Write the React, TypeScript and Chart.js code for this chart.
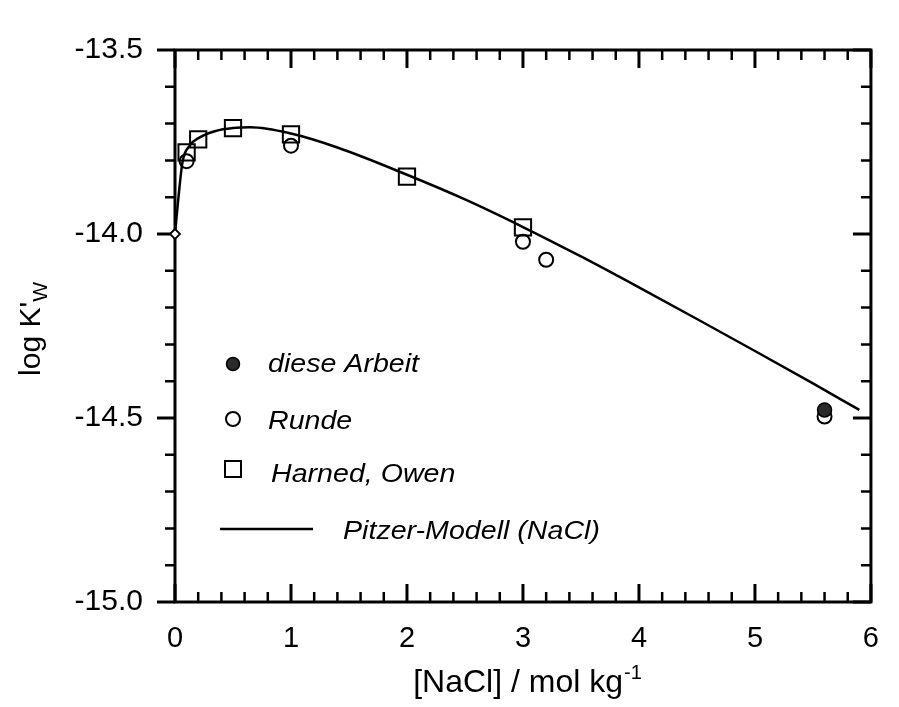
import React, { useEffect, useRef } from 'react';
import { Chart, registerables } from 'chart.js';

Chart.register(...registerables);

// ---- data ----
const DIESE_X = [5.6];
const DIESE_Y = [-14.478];

const RUNDE_X = [0.1, 1.0, 3.0, 3.2, 5.6];
const RUNDE_Y = [-13.802, -13.76, -14.021, -14.07, -14.496];

const HARNED_X = [0.1, 0.2, 0.5, 1.0, 2.0, 3.0];
const HARNED_Y = [-13.778, -13.743, -13.712, -13.729, -13.844, -13.982];

const PITZER_X = [0, 0.03, 0.065, 0.126, 0.21, 0.35, 0.5, 0.65, 1.0, 1.4, 2.0, 2.5, 3.0, 3.5, 4.0, 4.5, 5.0, 5.5, 5.9];
const PITZER_Y = [-14.0, -13.9, -13.804, -13.76, -13.738, -13.72, -13.712, -13.71, -13.727, -13.765, -13.839, -13.906, -13.981, -14.061, -14.145, -14.231, -14.318, -14.406, -14.478];

const ORIGIN_X = [0];
const ORIGIN_Y = [-14.0];

const X_TICKS = [0, 1, 2, 3, 4, 5, 6];
const Y_TICKS = [-15.0, -14.5, -14.0, -13.5];
const X_MINOR_STEP = 0.2;
const Y_MINOR_STEP = 0.1;

const LABEL_DIESE = 'diese Arbeit';
const LABEL_RUNDE = 'Runde';
const LABEL_HARNED = 'Harned, Owen';
const LABEL_PITZER = 'Pitzer-Modell (NaCl)';

const X_TITLE = '[NaCl] / mol kg';
const X_TITLE_SUP = '-1';
const Y_TITLE = "log K'";
const Y_TITLE_SUB = 'W';

const FONT = '"Liberation Sans", Arial, Helvetica, sans-serif';

const toPts = (xs: number[], ys: number[]) => xs.map((x, i) => ({ x, y: ys[i] }));

const framePlugin = {
  id: 'frameTicks',
  beforeDatasetsDraw(chart: any) {
    const { ctx, chartArea, scales } = chart;
    const { left, right, top, bottom } = chartArea;
    const xs = scales.x;
    const ys = scales.y;
    ctx.save();
    ctx.strokeStyle = '#000';
    ctx.lineCap = 'butt';
    const MAJ = 18;
    const MIN = 10;
    // x ticks (bottom + top, inward)
    const xMin = xs.min, xMax = xs.max;
    const nX = Math.round((xMax - xMin) / X_MINOR_STEP);
    for (let i = 0; i <= nX; i++) {
      const v = xMin + i * X_MINOR_STEP;
      const isMaj = X_TICKS.some((t) => Math.abs(t - v) < 1e-6);
      const px = xs.getPixelForValue(v);
      const len = isMaj ? MAJ : MIN;
      ctx.lineWidth = isMaj ? 3 : 2.5;
      ctx.beginPath();
      ctx.moveTo(px, bottom);
      ctx.lineTo(px, bottom - len);
      ctx.moveTo(px, top);
      ctx.lineTo(px, top + len);
      ctx.stroke();
    }
    // y ticks (left outward, right inward)
    const yMin = ys.min, yMax = ys.max;
    const nY = Math.round((yMax - yMin) / Y_MINOR_STEP);
    for (let i = 0; i <= nY; i++) {
      const v = yMin + i * Y_MINOR_STEP;
      const isMaj = Y_TICKS.some((t) => Math.abs(t - v) < 1e-6);
      const py = ys.getPixelForValue(v);
      const len = isMaj ? MAJ : MIN;
      ctx.lineWidth = isMaj ? 3 : 2.5;
      ctx.beginPath();
      ctx.moveTo(left, py);
      ctx.lineTo(left - len, py);
      ctx.moveTo(right, py);
      ctx.lineTo(right - len, py);
      ctx.stroke();
    }
    // frame
    ctx.lineWidth = 3;
    ctx.strokeRect(left, top, right - left, bottom - top);
    ctx.restore();
  },
  afterDraw(chart: any) {
    const { ctx, chartArea } = chart;
    const { left, right, top, bottom } = chartArea;
    ctx.save();
    ctx.fillStyle = '#000';
    ctx.textBaseline = 'alphabetic';
    ctx.textAlign = 'left';

    // x title with superscript
    ctx.font = `32px ${FONT}`;
    const w1 = ctx.measureText(X_TITLE).width;
    ctx.font = `20px ${FONT}`;
    const w2 = ctx.measureText(X_TITLE_SUP).width;
    const cx = (left + right) / 2 + 4;
    const sx = cx - (w1 + w2) / 2;
    const by = bottom + 90;
    ctx.font = `32px ${FONT}`;
    ctx.fillText(X_TITLE, sx, by);
    ctx.font = `20px ${FONT}`;
    ctx.fillText(X_TITLE_SUP, sx + w1 + 1, by - 13);

    // y title with subscript (rotated)
    ctx.save();
    ctx.translate(40, (top + bottom) / 2 + 3);
    ctx.rotate(-Math.PI / 2);
    ctx.font = `30px ${FONT}`;
    const yw1 = ctx.measureText(Y_TITLE).width;
    ctx.font = `21px ${FONT}`;
    const yw2 = ctx.measureText(Y_TITLE_SUB).width;
    const ys0 = -(yw1 + yw2) / 2;
    ctx.font = `30px ${FONT}`;
    ctx.fillText(Y_TITLE, ys0, 0);
    ctx.font = `21px ${FONT}`;
    ctx.fillText(Y_TITLE_SUB, ys0 + yw1, 7);
    ctx.restore();

    // legend
    const symX = left + 58;
    const txtX = left + 93;
    const rows = [
      { label: LABEL_DIESE, sy: top + 314, ty: top + 322, kind: 'filled' },
      { label: LABEL_RUNDE, sy: top + 369, ty: top + 378.5, kind: 'circle' },
      { label: LABEL_HARNED, sy: top + 419, ty: top + 432, kind: 'rect' },
      { label: LABEL_PITZER, sy: top + 479, ty: top + 489, kind: 'line' },
    ];
    rows.forEach((r) => {
      ctx.strokeStyle = '#000';
      ctx.lineWidth = 2;
      if (r.kind === 'filled') {
        ctx.beginPath();
        ctx.arc(symX, r.sy, 6.5, 0, Math.PI * 2);
        ctx.fillStyle = '#2a2a2a';
        ctx.fill();
        ctx.lineWidth = 1.5;
        ctx.stroke();
      } else if (r.kind === 'circle') {
        ctx.beginPath();
        ctx.arc(symX, r.sy, 7, 0, Math.PI * 2);
        ctx.stroke();
      } else if (r.kind === 'rect') {
        ctx.strokeRect(symX - 8, r.sy - 8, 16, 16);
      } else {
        ctx.lineWidth = 2.5;
        ctx.beginPath();
        ctx.moveTo(left + 45, r.sy);
        ctx.lineTo(left + 138, r.sy);
        ctx.stroke();
      }
      ctx.fillStyle = '#000';
      ctx.font = `italic 26px ${FONT}`;
      const tx = r.kind === 'line' ? left + 168 : r.kind === 'rect' ? txtX + 3 : txtX;
      ctx.save();
      ctx.translate(tx, r.ty);
      ctx.scale(1.1, 1);
      ctx.fillText(r.label, 0, 0);
      ctx.restore();
    });
    ctx.restore();
  },
};

export default function App() {
  const ref = useRef<HTMLCanvasElement>(null);
  useEffect(() => {
    const chart = new Chart(ref.current as HTMLCanvasElement, {
      type: 'scatter',
      data: {
        datasets: [
          {
            label: 'origin',
            data: toPts(ORIGIN_X, ORIGIN_Y),
            pointStyle: 'rectRot',
            pointRadius: 5,
            borderColor: '#000',
            backgroundColor: '#fff',
            borderWidth: 1.8,
            clip: false,
          } as any,
          {
            label: LABEL_DIESE,
            data: toPts(DIESE_X, DIESE_Y),
            pointStyle: 'circle',
            pointRadius: 7,
            borderColor: '#000',
            backgroundColor: '#2a2a2a',
            borderWidth: 1.5,
            clip: false,
          } as any,
          {
            label: LABEL_RUNDE,
            data: toPts(RUNDE_X, RUNDE_Y),
            pointStyle: 'circle',
            pointRadius: 7,
            borderColor: '#000',
            backgroundColor: 'rgba(0,0,0,0)',
            borderWidth: 2,
            clip: false,
          } as any,
          {
            label: LABEL_HARNED,
            data: toPts(HARNED_X, HARNED_Y),
            pointStyle: 'rect',
            pointRadius: 11.5,
            borderColor: '#000',
            backgroundColor: 'rgba(0,0,0,0)',
            borderWidth: 2,
            clip: false,
          } as any,
          {
            label: LABEL_PITZER,
            data: toPts(PITZER_X, PITZER_Y),
            showLine: true,
            pointRadius: 0,
            borderColor: '#000',
            backgroundColor: '#000',
            borderWidth: 2.5,
            cubicInterpolationMode: 'monotone',
            fill: false,
            clip: false,
          } as any,
        ],
      },
      options: {
        animation: false,
        responsive: true,
        maintainAspectRatio: false,
        events: [],
        layout: { padding: { top: 33, right: 11, left: 0, bottom: 0 } },
        plugins: { legend: { display: false }, tooltip: { enabled: false } },
        scales: {
          x: {
            type: 'linear',
            min: 0,
            max: 6,
            afterBuildTicks: (s: any) => {
              s.ticks = X_TICKS.map((v) => ({ value: v }));
            },
            afterFit: (s: any) => {
              s.height = 105;
            },
            grid: { display: false, drawTicks: false },
            border: { display: false },
            ticks: {
              color: '#000',
              font: { family: FONT, size: 29 },
              padding: 20,
              maxRotation: 0,
              autoSkip: false,
              callback: (v: any) => String(v),
            },
          },
          y: {
            type: 'linear',
            min: -15,
            max: -13.5,
            afterBuildTicks: (s: any) => {
              s.ticks = Y_TICKS.map((v) => ({ value: v }));
            },
            afterFit: (s: any) => {
              s.width = 175;
            },
            grid: { display: false, drawTicks: false },
            border: { display: false },
            ticks: {
              color: '#000',
              font: { family: FONT, size: 30 },
              padding: 32,
              autoSkip: false,
              callback: (v: any) => Number(v).toFixed(1),
            },
          },
        },
      },
      plugins: [framePlugin],
    } as any);
    return () => chart.destroy();
  }, []);

  return (
    <div style={{ position: 'absolute', left: 0, top: 0, width: 899, height: 707, background: '#fff' }}>
      <canvas ref={ref} />
    </div>
  );
}
